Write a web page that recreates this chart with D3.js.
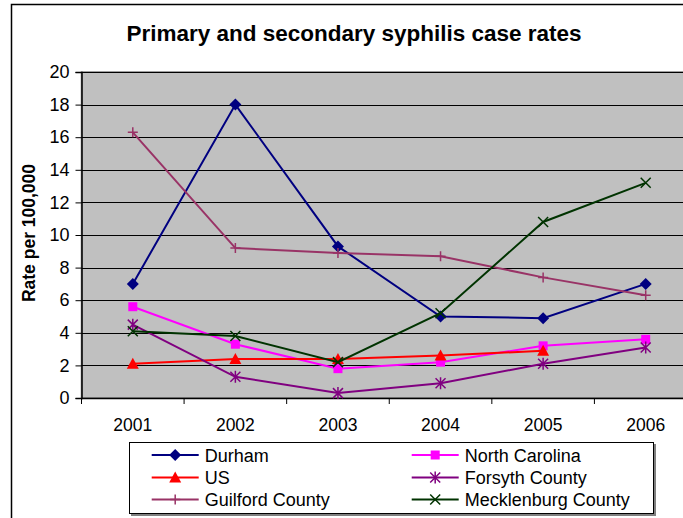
<!DOCTYPE html>
<html><head><meta charset="utf-8">
<script src="https://cdn.jsdelivr.net/npm/d3@7"></script>
<style>body{margin:0;background:#fff}svg{display:block;font-family:"Liberation Sans",Arial,sans-serif}</style>
</head><body><svg id="c" width="683" height="518"></svg>
<script>
const years = ["2001","2002","2003","2004","2005","2006"];
const yTicks = [0,2,4,6,8,10,12,14,16,18,20];
const durham = [7.0,18.0,9.3,5.0,4.9,7.0];
const northCarolina = [5.6,3.3,1.8,2.2,3.2,3.6];
const us = [2.1,2.4,2.4,2.6,2.9,null];
const forsyth = [4.5,1.3,0.3,0.9,2.1,3.1];
const guilford = [16.3,9.2,8.9,8.7,7.4,6.3];
const mecklenburg = [4.1,3.8,2.2,5.2,10.8,13.2];
const seriesNames = ["Durham","North Carolina","US","Forsyth County","Guilford County","Mecklenburg County"];

const series = [
  {name:seriesNames[0], values:durham, color:"#000080", marker:"diamond"},
  {name:seriesNames[1], values:northCarolina, color:"#FF00FF", marker:"square"},
  {name:seriesNames[2], values:us, color:"#FF0000", marker:"triangle"},
  {name:seriesNames[3], values:forsyth, color:"#800080", marker:"star"},
  {name:seriesNames[4], values:guilford, color:"#993366", marker:"plus"},
  {name:seriesNames[5], values:mecklenburg, color:"#003300", marker:"cross"}
];

const svg = d3.select("#c");
const L=81.5, R=697, T=72, B=398;
const x = d3.scaleBand().domain(years).range([L,R]);
const y = d3.scaleLinear().domain([0,20]).range([B,T]);

// outer border
svg.append("rect").attr("x",11.5).attr("y",4.5).attr("width",700).attr("height",530)
  .attr("fill","#fff").attr("stroke","#000").attr("stroke-width",1.5);

// title
svg.append("text").attr("x",354).attr("y",41).attr("text-anchor","middle")
  .attr("font-weight","bold").attr("font-size",22.5).text("Primary and secondary syphilis case rates");

// plot bg
svg.append("rect").attr("x",L).attr("y",T).attr("width",R-L).attr("height",B-T)
  .attr("fill","#C0C0C0").attr("stroke","#808080").attr("stroke-width",1.5);

// gridlines
svg.append("g").selectAll("line").data(yTicks.filter(d=>d>0)).join("line")
  .attr("x1",L).attr("x2",R).attr("y1",d=>Math.round(y(d))+0.5).attr("y2",d=>Math.round(y(d))+0.5)
  .attr("stroke","#000").attr("stroke-width",1);

// y axis
const ya = svg.append("g").attr("transform",`translate(${L},0)`)
  .call(d3.axisLeft(y).tickValues(yTicks).tickSize(6).tickPadding(6));
ya.selectAll("text").attr("font-size",18).attr("fill","#000").attr("font-family","Liberation Sans, Arial, sans-serif");
ya.select(".domain").attr("stroke","#000").attr("stroke-width",1.5);
ya.selectAll(".tick line").attr("stroke","#000");

// x axis
const xa = svg.append("g").attr("transform",`translate(0,${B})`)
  .call(d3.axisBottom(x).tickSize(0).tickPadding(21));
xa.selectAll("text").attr("font-size",17.5).attr("fill","#000").attr("font-family","Liberation Sans, Arial, sans-serif");
xa.select(".domain").attr("stroke","#000").attr("stroke-width",1.5);
svg.append("g").selectAll("line").data(years).join("line")
  .attr("x1",d=>x(d)).attr("x2",d=>x(d)).attr("y1",B).attr("y2",B+6).attr("stroke","#000");

// y title
svg.append("text").attr("transform",`translate(35,233) rotate(-90)`).attr("text-anchor","middle")
  .attr("font-weight","bold").attr("font-size",17.5).text("Rate per 100,000");

function drawMarker(g, type, color, s){
  const h=s/2;
  if(type==="diamond") g.append("path").attr("d",`M0,${-h-1}L${h+1},0L0,${h+1}L${-h-1},0Z`).attr("fill",color);
  else if(type==="square") g.append("rect").attr("x",-h).attr("y",-h).attr("width",s).attr("height",s).attr("fill",color);
  else if(type==="triangle") g.append("path").attr("d",`M0,${-h-1}L${h+1},${h}L${-h-1},${h}Z`).attr("fill",color);
  else if(type==="star") g.append("path").attr("d",`M${-h},${-h}L${h},${h}M${-h},${h}L${h},${-h}M0,${-h-1}L0,${h+1}`).attr("stroke",color).attr("stroke-width",1.5).attr("fill","none");
  else if(type==="plus") g.append("path").attr("d",`M${-h},0L${h},0M0,${-h}L0,${h}`).attr("stroke",color).attr("stroke-width",1.5).attr("fill","none");
  else if(type==="cross") g.append("path").attr("d",`M${-h},${-h}L${h},${h}M${-h},${h}L${h},${-h}`).attr("stroke",color).attr("stroke-width",1.5).attr("fill","none");
}

const cx = d=>x(d)+x.bandwidth()/2;
const line = d3.line().defined(d=>d.v!=null).x(d=>cx(d.year)).y(d=>y(d.v));
series.forEach(s=>{
  const pts = years.map((yr,i)=>({year:yr,v:s.values[i]}));
  svg.append("path").datum(pts).attr("d",line).attr("fill","none").attr("stroke",s.color).attr("stroke-width",2);
  pts.filter(p=>p.v!=null).forEach(p=>{
    const g = svg.append("g").attr("transform",`translate(${cx(p.year)},${y(p.v)})`);
    drawMarker(g,s.marker,s.color,s.marker==="square"?9:10);
  });
});

// legend
const lg = svg.append("g");
lg.append("rect").attr("x",131).attr("y",444).attr("width",525).attr("height",72).attr("fill","#808080");
lg.append("rect").attr("x",129.5).attr("y",442.5).attr("width",524).attr("height",71).attr("fill","#fff").attr("stroke","#000").attr("stroke-width",1);
const colX=[151.7,411.7], rowY=[455,477.5,499.5];
series.forEach((s,i)=>{
  const cxL = colX[i%2], cyL = rowY[Math.floor(i/2)];
  lg.append("line").attr("x1",cxL).attr("x2",cxL+47).attr("y1",cyL).attr("y2",cyL).attr("stroke",s.color).attr("stroke-width",2);
  const g = lg.append("g").attr("transform",`translate(${cxL+23.5},${cyL})`);
  drawMarker(g,s.marker,s.color,s.marker==="square"?9:10);
  lg.append("text").attr("x",cxL+53).attr("y",cyL+6.5).attr("font-size",18).text(s.name);
});
</script></body></html>
